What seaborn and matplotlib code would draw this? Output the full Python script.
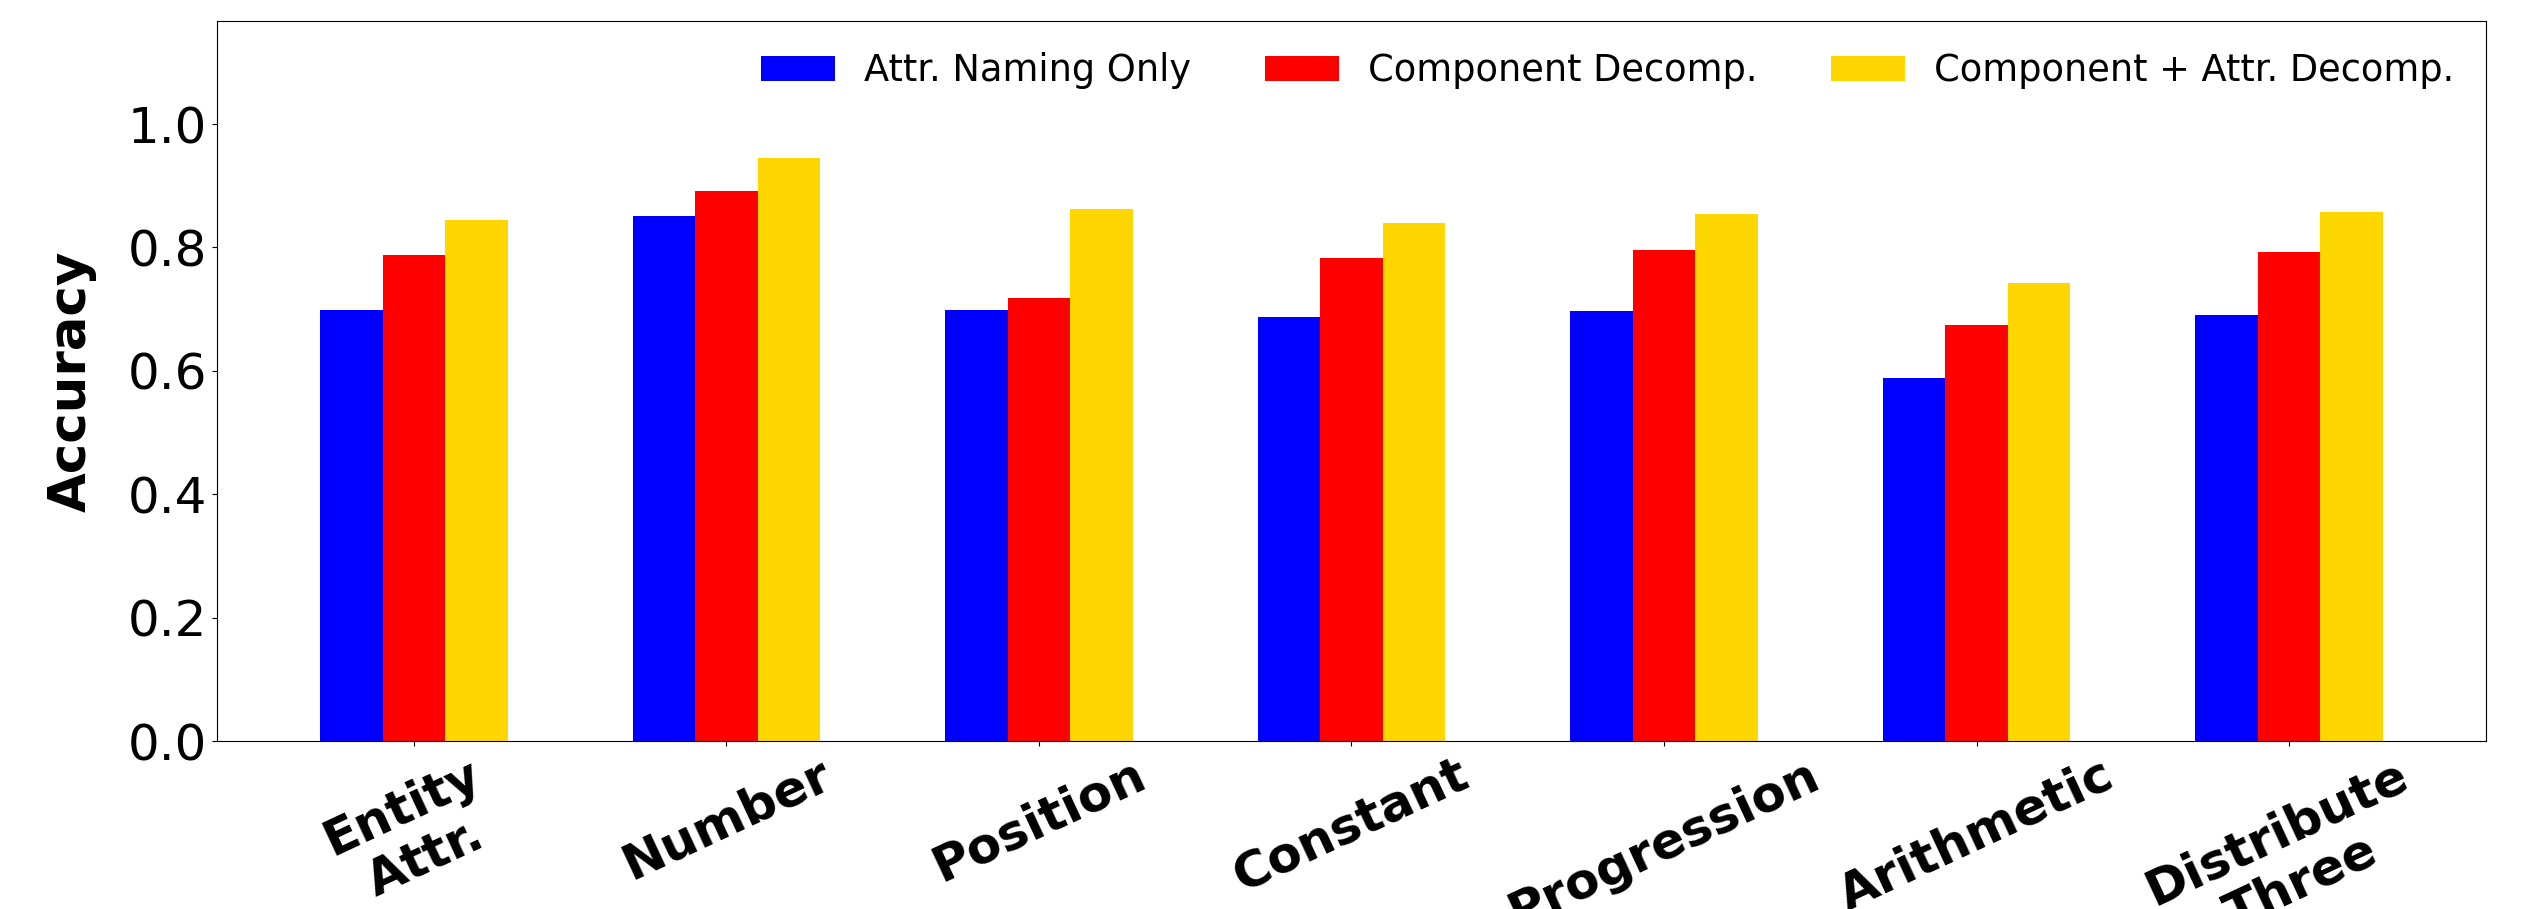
import matplotlib
matplotlib.use("Agg")
import matplotlib.pyplot as plt
import numpy as np
import pandas as pd
import seaborn as sns

# --- data
categories = ["Entity\nAttr.", "Number", "Position", "Constant",
              "Progression", "Arithmetic", "Distribute\nThree"]
methods = ["Attr. Naming Only", "Component Decomp.", "Component + Attr. Decomp."]
naming_only = [0.699, 0.851, 0.699, 0.687, 0.697, 0.588, 0.690]
comp_decomp = [0.788, 0.891, 0.718, 0.783, 0.796, 0.674, 0.793]
comp_attr_decomp = [0.844, 0.945, 0.862, 0.840, 0.854, 0.742, 0.857]
colors = ["#0000FF", "#FF0000", "#FFD700"]

# long format for seaborn
df = pd.DataFrame({
    "category": categories * 3,
    "method": [m for m in methods for _ in categories],
    "accuracy": naming_only + comp_decomp + comp_attr_decomp,
})

fig = plt.figure(figsize=(25.38, 9.09), dpi=100)
ax = fig.add_axes([0.0855, 0.1848, 0.894, 0.7921])

sns.barplot(data=df, x="category", y="accuracy", hue="method",
            hue_order=methods, order=categories,
            palette=dict(zip(methods, colors)), saturation=1,
            width=0.6, errorbar=None, ax=ax)

ax.set_xlim(-0.63, len(categories) - 1 + 0.63)
ax.set_ylim(0, 1.167)
ax.set_yticks(np.arange(0, 1.01, 0.2))
ax.tick_params(axis="y", labelsize=36)
ax.set_xlabel("")
ax.set_ylabel("Accuracy", fontsize=37, fontweight="bold", labelpad=22)
ax.set_xticks(range(len(categories)))
ax.set_xticklabels(categories, rotation=25, fontsize=36, fontweight="bold")

ax.legend(ncol=3, frameon=False, loc="upper right", fontsize=26.5,
          borderaxespad=0.45)

fig.savefig("out.png", dpi=100)
